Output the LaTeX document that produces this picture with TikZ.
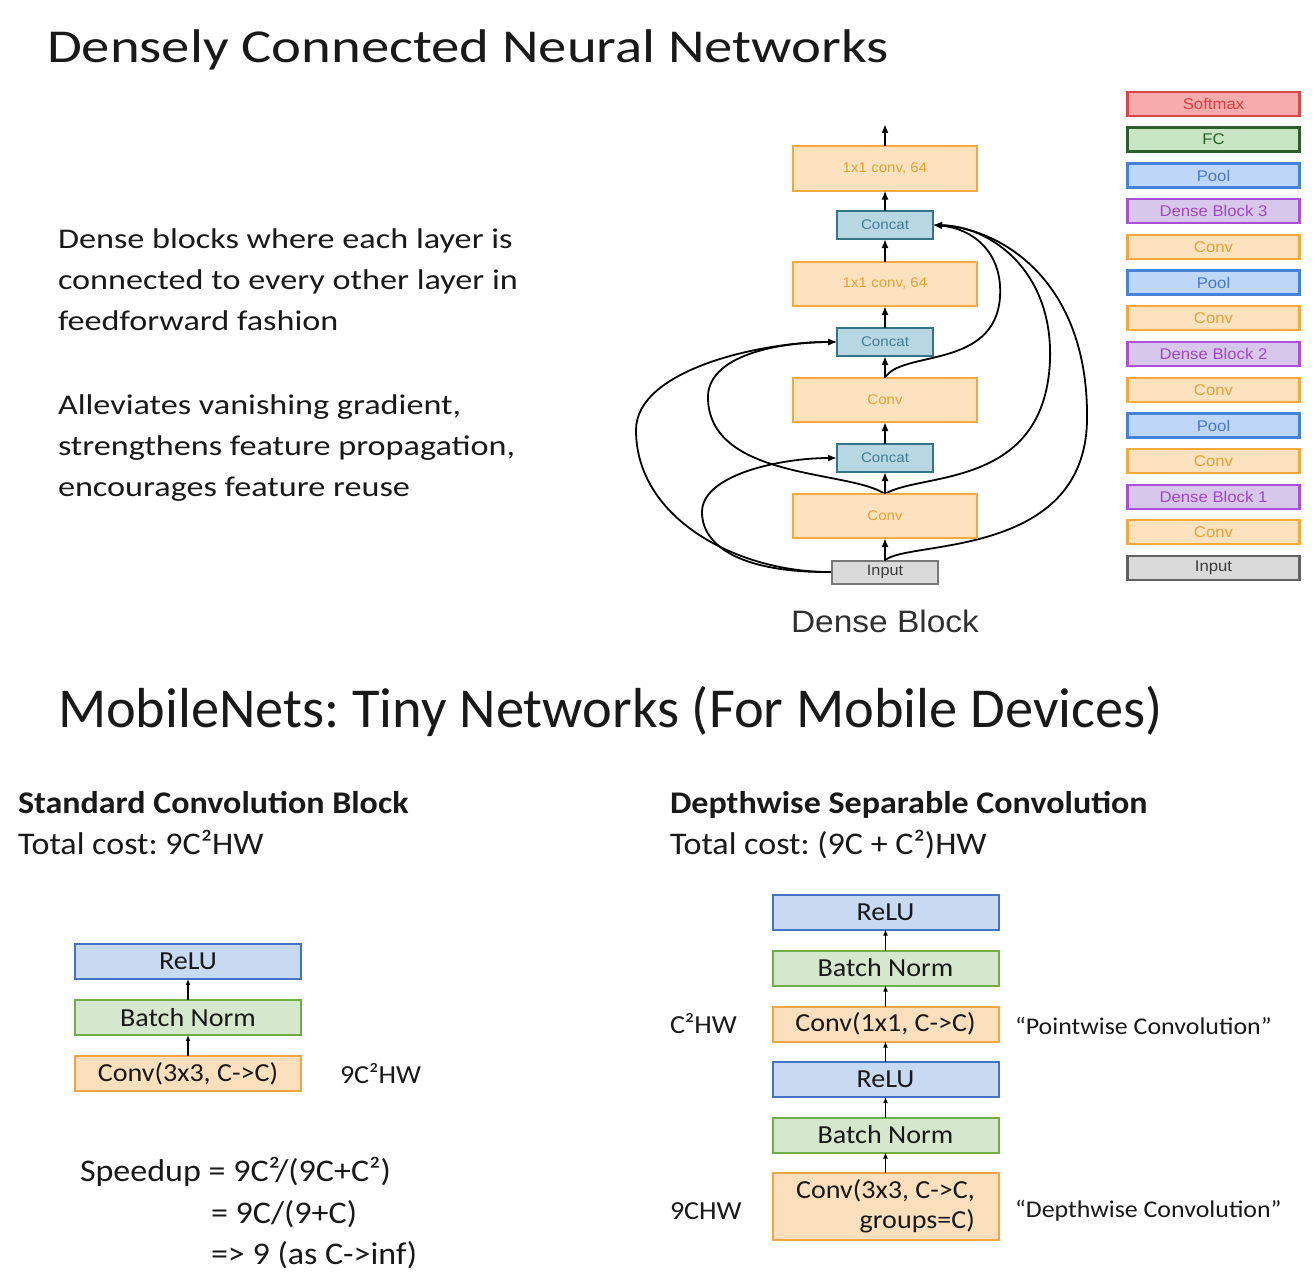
\documentclass[tikz,border=0pt]{standalone}
\usepackage{fontspec}
\setmainfont{Carlito}
\newfontfamily\topfont[FakeStretch=1.2]{Carlito}
\newfontfamily\botfont[FakeStretch=1.08]{Carlito}
\newfontfamily\helv[FakeStretch=1.08]{Liberation Sans}
\usetikzlibrary{arrows.meta}
\pgfdeclarelayer{back}
\pgfsetlayers{back,main}
\frenchspacing

% dense block palette
\definecolor{orF}{RGB}{252,226,190}
\definecolor{orB}{RGB}{245,168,60}
\definecolor{orT}{RGB}{236,160,50}
\definecolor{catF}{RGB}{183,216,226}
\definecolor{catB}{RGB}{55,115,135}
\definecolor{catT}{RGB}{65,125,145}
\definecolor{inF}{RGB}{218,218,218}
\definecolor{inB}{RGB}{120,120,120}
\definecolor{inT}{RGB}{60,60,60}
\definecolor{smF}{RGB}{246,172,172}
\definecolor{smB}{RGB}{220,70,70}
\definecolor{smT}{RGB}{225,60,60}
\definecolor{fcF}{RGB}{200,230,195}
\definecolor{fcB}{RGB}{45,95,45}
\definecolor{fcT}{RGB}{40,95,40}
\definecolor{plF}{RGB}{190,215,248}
\definecolor{plB}{RGB}{70,130,220}
\definecolor{plT}{RGB}{70,120,210}
\definecolor{dbF}{RGB}{215,200,235}
\definecolor{dbB}{RGB}{170,80,220}
\definecolor{dbT}{RGB}{160,70,200}
% mobilenet palette
\definecolor{reF}{RGB}{200,218,242}
\definecolor{reB}{RGB}{68,114,196}
\definecolor{bnF}{RGB}{213,232,205}
\definecolor{bnB}{RGB}{112,173,71}
\definecolor{cvF}{RGB}{252,224,190}
\definecolor{cvB}{RGB}{242,165,70}
\definecolor{txt}{RGB}{25,25,25}

\begin{document}
\begin{tikzpicture}[x=1pt,y=-1pt,
  every node/.style={inner sep=0pt, outer sep=0pt},
  dbox/.style={draw, line width=2pt, minimum width=184pt, minimum height=44pt,
    font=\helv\fontsize{14}{16}\selectfont},
  orbox/.style={dbox, draw=orB, fill=orF, text=orT},
  catbox/.style={draw=catB, fill=catF, text=catT, line width=2pt,
    minimum width=96pt, minimum height=28pt, font=\helv\fontsize{14}{16}\selectfont},
  inbox/.style={draw=inB, fill=inF, text=inT, line width=2pt,
    minimum width=106pt, minimum height=23pt, font=\helv\fontsize{15}{17}\selectfont},
  leg/.style={line width=2.5pt, minimum width=172pt, minimum height=24pt,
    font=\helv\fontsize{15.5}{17}\selectfont},
  legsm/.style={leg, draw=smB, fill=smF, text=smT},
  legfc/.style={leg, draw=fcB, fill=fcF, text=fcT},
  legpl/.style={leg, draw=plB, fill=plF, text=plT},
  legdb/.style={leg, draw=dbB, fill=dbF, text=dbT},
  legcv/.style={leg, draw=orB, fill=orF, text=orT},
  legin/.style={leg, draw=inB!80!black, fill=inF, text=inT},
  link/.style={line width=1.8pt, -{Latex[length=9pt,width=7pt]}},
  mbox/.style={line width=2pt, minimum width=226pt, minimum height=35pt, text=txt,
    font=\botfont\fontsize{26}{30}\selectfont},
  rebox/.style={mbox, draw=reB, fill=reF},
  bnbox/.style={mbox, draw=bnB, fill=bnF},
  cvbox/.style={mbox, draw=cvB, fill=cvF},
  marrow/.style={line width=1.5pt, -{Latex[length=6pt,width=5pt]}},
  bodytext/.style={anchor=base west, text=txt, align=left,
    font=\topfont\fontsize{28.5}{41}\selectfont},
  btext/.style={anchor=base west, text=txt, font=\botfont\fontsize{31.5}{41}\selectfont},
  lbl/.style={anchor=west, text=txt, font=\botfont\fontsize{26}{30}\selectfont},
  qlbl/.style={anchor=west, text=txt, font=\botfont\fontsize{24}{28}\selectfont}
]
\useasboundingbox (0,0) rectangle (1315,1287);

% ---------- titles and text ----------
\node[anchor=base west, text=txt, font=\topfont\fontsize{47.2}{50}\selectfont]
  (t1) at (47,63) {Densely Connected Neural Networks};
% multi-line nodes: the base anchor sits on the last line
\node[bodytext] (p1) at (58,330) {Dense blocks where each layer is\\connected to every other layer in\\feedforward fashion};
\node[bodytext] (p2) at (58,496) {Alleviates vanishing gradient,\\strengthens feature propagation,\\encourages feature reuse};

% ---------- dense block ----------
\node[orbox]  (fc1) at (885,168.5) {1x1 conv, 64};
\node[catbox] (c1)  at (885,225)   {Concat};
\node[orbox]  (fc2) at (885,284)   {1x1 conv, 64};
\node[catbox] (c2)  at (885,342)   {Concat};
\node[orbox]  (cv2) at (885,400)   {Conv};
\node[catbox] (c3)  at (885,458)   {Concat};
\node[orbox]  (cv1) at (885,516)   {Conv};
\node[inbox]  (inp) at (885,572)   {Input};
\coordinate (out) at (885,124);
\node[font=\helv\fontsize{31}{34}\selectfont, text=txt!90] (cap) at (885,621) {Dense Block};

\draw[link] (inp) -- (cv1);
\draw[link] (cv1) -- (c3);
\draw[link] (c3) -- (cv2);
\draw[link] (cv2) -- (c2);
\draw[link] (c2) -- (fc2);
\draw[link] (fc2) -- (c1);
\draw[link] (c1) -- (fc1);
\draw[link] (fc1) -- (out);

\begin{pgfonlayer}{back}
  % skip connections of the block, kept behind the boxes
  \draw[link] (inp.west) .. controls (740,573) and (636,520) .. (636,430)
              .. controls (636,370) and (760,342) .. (c2.west);
  \draw[link] (inp.west) .. controls (745,573) and (702,548) .. (702,512)
              .. controls (702,475) and (780,458) .. (c3.west);
  \draw[link] (cv1.north) .. controls (850,470) and (712,480) .. (708,400)
              .. controls (705,355) and (780,342) .. (c2.west);
  \draw[link] (cv1.north) .. controls (920,472) and (1045,490) .. (1050,360)
              .. controls (1053,270) and (990,226) .. (c1.east);
  \draw[link] (inp.north) .. controls (905,540) and (1085,560) .. (1087,420)
              .. controls (1089,280) and (1000,228) .. (c1.east);
  \draw[link] (cv2.north) .. controls (900,350) and (995,370) .. (1000,297)
              .. controls (1003,250) and (970,228) .. (c1.east);
\end{pgfonlayer}

% ---------- whole network column ----------
\node[legsm] (l1)  at (1213.5,104)   {Softmax};
\node[legfc] (l2)  at (1213.5,139.5) {FC};
\node[legpl] (l3)  at (1213.5,175.5) {Pool};
\node[legdb] (l4)  at (1213.5,211)   {Dense Block 3};
\node[legcv] (l5)  at (1213.5,247)   {Conv};
\node[legpl] (l6)  at (1213.5,282.5) {Pool};
\node[legcv] (l7)  at (1213.5,318)   {Conv};
\node[legdb] (l8)  at (1213.5,354)   {Dense Block 2};
\node[legcv] (l9)  at (1213.5,390)   {Conv};
\node[legpl] (l10) at (1213.5,425.5) {Pool};
\node[legcv] (l11) at (1213.5,461)   {Conv};
\node[legdb] (l12) at (1213.5,497)   {Dense Block 1};
\node[legcv] (l13) at (1213.5,532)   {Conv};
\node[legin] (l14) at (1213.5,568)   {Input};

% ---------- MobileNets ----------
\node[anchor=base west, text=txt, font=\fontsize{56.4}{60}\selectfont]
  (t2) at (58,727) {MobileNets: Tiny Networks (For Mobile Devices)};

\node[btext, font=\botfont\bfseries\fontsize{31.5}{41}\selectfont] (h1) at (18,813) {Standard Convolution Block};
\node[btext] (k1) at (18,854) {Total cost: 9C²HW};
\node[btext, font=\botfont\bfseries\fontsize{31.5}{41}\selectfont] (h2) at (670,813) {Depthwise Separable Convolution};
\node[btext] (k2) at (670,854) {Total cost: (9C + C²)HW};

% standard block
\node[rebox] (sr) at (188,961.5)  {ReLU};
\node[bnbox] (sb) at (188,1017.5) {Batch Norm};
\node[cvbox] (sc) at (188,1073.5) {Conv(3x3, C->C)};
\draw[marrow] (sc) -- (sb);
\draw[marrow] (sb) -- (sr);
\node[lbl] (sl) at (340,1073.5) {9C²HW};

\node[btext] (s1) at (80,1181) {Speedup = 9C²/(9C+C²)};
\node[btext] (s2) at (211,1223) {= 9C/(9+C)};
\node[btext] (s3) at (211,1264) {=> 9 (as C->inf)};

% depthwise separable block
\node[rebox] (dr2) at (885.5,912)    {ReLU};
\node[bnbox] (db2) at (885.5,968)    {Batch Norm};
\node[cvbox] (dp)  at (885.5,1024)   {Conv(1x1, C->C)};
\node[rebox] (dr1) at (885.5,1079.5) {ReLU};
\node[bnbox] (db1) at (885.5,1135)   {Batch Norm};
\node[cvbox, minimum height=67pt, align=right] (dd) at (885.5,1206.5) {Conv(3x3, C->C,\\groups=C)};
\draw[marrow] (dd) -- (db1);
\draw[marrow] (db1) -- (dr1);
\draw[marrow] (dr1) -- (dp);
\draw[marrow] (dp) -- (db2);
\draw[marrow] (db2) -- (dr2);

\node[lbl]  (pl) at (670,1024)  {C²HW};
\node[qlbl] (pr) at (1015,1026) {“Pointwise Convolution”};
\node[lbl]  (dl) at (670,1211)  {9CHW};
\node[qlbl] (dr) at (1015,1211) {“Depthwise Convolution”};
\end{tikzpicture}
\end{document}
